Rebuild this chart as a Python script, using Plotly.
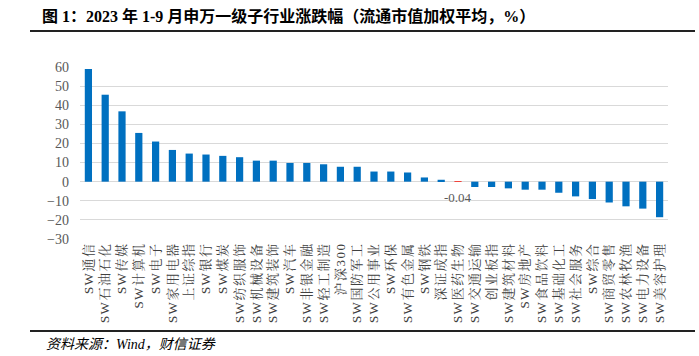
import plotly.graph_objects as go

categories = ["SW通信", "SW石油石化", "SW传媒", "SW计算机", "SW电子", "SW家用电器", "上证综指",
              "SW银行", "SW煤炭", "SW纺织服饰", "SW机械设备", "SW建筑装饰", "SW汽车", "SW非银金融",
              "SW轻工制造", "沪深300", "SW国防军工", "SW公用事业", "SW环保", "SW有色金属", "SW钢铁",
              "深证成指", "SW医药生物", "SW交通运输", "创业板指", "SW建筑材料", "SW房地产", "SW食品饮料",
              "SW基础化工", "SW社会服务", "SW综合", "SW商贸零售", "SW农林牧渔", "SW电力设备", "SW美容护理"]
values = [58.9, 45.5, 36.8, 25.5, 21.0, 16.6, 14.7,
          14.2, 13.5, 12.8, 11.0, 11.0, 9.8, 9.8,
          9.1, 7.8, 7.8, 5.3, 5.3, 4.8, 2.2,
          1.0, -0.04, -2.8, -2.8, -3.5, -4.2, -4.2,
          -5.8, -7.7, -9.1, -10.9, -12.9, -14.1, -18.6]
y_ticks = [-30, -20, -10, 0, 10, 20, 30, 40, 50, 60]
highlight = "SW医药生物"

title_text = "图 1：2023 年 1-9 月申万一级子行业涨跌幅（流通市值加权平均，%）"
source_text = "资料来源：Wind，财信证券"

BLUE = "#0070C0"
RED = "#F0443C"
colors = [RED if c == highlight else BLUE for c in categories]

SERIF = "Liberation Serif, Noto Serif CJK SC, Noto Sans CJK SC, serif"

fig = go.Figure()
fig.add_trace(go.Bar(x=categories, y=values, marker=dict(color=colors, line=dict(width=0)),
                     hoverinfo="x+y"))

hi_idx = categories.index(highlight)
fig.add_annotation(x=categories[hi_idx], y=values[hi_idx], text=str(values[hi_idx]),
                   showarrow=False, yshift=-16, xshift=0,
                   font=dict(family=SERIF, size=13, color="#595959"))

fig.update_layout(
    width=699, height=356,
    margin=dict(l=80, r=31, t=67, b=117),
    paper_bgcolor="white", plot_bgcolor="white",
    bargap=0.57,
    showlegend=False,
    xaxis=dict(tickangle=-90, showgrid=False, showline=False, ticks="",
               tickfont=dict(family=SERIF, size=13, color="#404040"),
               zeroline=False),
    yaxis=dict(range=[-30, 60], tickvals=y_ticks, showgrid=True, gridcolor="#D9D9D9",
               gridwidth=1, zeroline=True, zerolinecolor="#D9D9D9", zerolinewidth=1,
               tickfont=dict(family=SERIF, size=14, color="#595959"), ticks="",
               ticklabelstandoff=10),
)

# title and source
fig.add_annotation(xref="paper", yref="paper", x=(40 - 80) / 588, y=(239 - 16) / 172,
                   xanchor="left", yanchor="middle", showarrow=False, text="<b>" + title_text + "</b>",
                   font=dict(family="Liberation Serif, Noto Sans CJK SC", size=16, color="#000000"))
fig.add_annotation(xref="paper", yref="paper", x=(44 - 80) / 588, y=(239 - 344) / 172,
                   xanchor="left", yanchor="middle", showarrow=False, text="<i>" + source_text + "</i>",
                   font=dict(family="Liberation Serif, Noto Sans CJK SC", size=14, color="#000000"))

# rule lines above and below the chart
for py in (31, 331):
    yp = (239 - py) / 172
    fig.add_shape(type="line", xref="paper", yref="paper",
                  x0=(30 - 80) / 588, x1=(695 - 80) / 588, y0=yp, y1=yp,
                  line=dict(color="#222222", width=2))

post = (
    "document.body.style.margin='0';"
    "document.querySelectorAll('.xtick text').forEach(function(t){t.style.letterSpacing='1.5px';});"
)
fig.write_html("out.html", config={"displayModeBar": False}, post_script=post)
